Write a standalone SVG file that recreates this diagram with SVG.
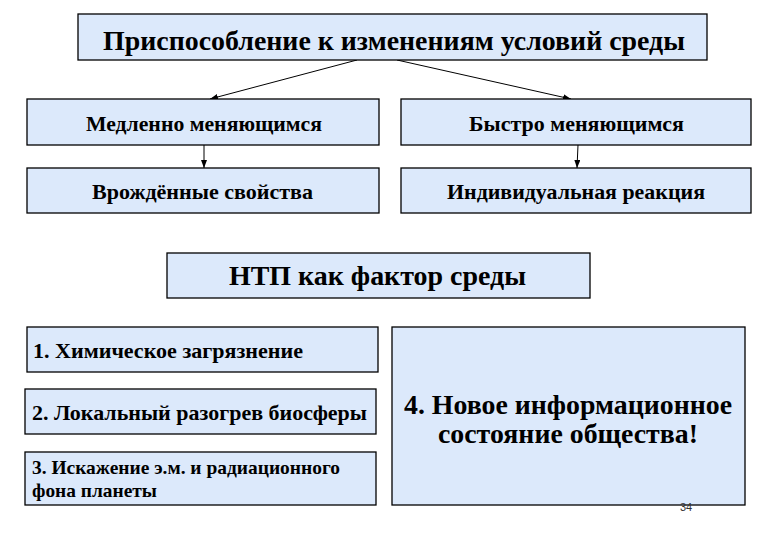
<svg xmlns="http://www.w3.org/2000/svg" width="780" height="540" viewBox="0 0 780 540">
<style>
.box{fill:#dce9fb;stroke:#000;stroke-width:1.3}
.t{font-family:"Liberation Serif","Times New Roman",serif;font-weight:bold;fill:#000}
.c{fill:none;stroke:#000;stroke-width:1}
</style>
<defs>
<marker id="ah" markerWidth="8" markerHeight="6" refX="8" refY="3" orient="auto" markerUnits="userSpaceOnUse">
<path d="M0,0 L8,3 L0,6 Z" fill="#000"/>
</marker>
</defs>
<rect width="780" height="540" fill="#fff"/>
<g id="connectors">
<line class="c" x1="357" y1="60" x2="210" y2="99" marker-end="url(#ah)"/>
<line class="c" x1="397" y1="60" x2="571" y2="99" marker-end="url(#ah)"/>
<line class="c" x1="204" y1="145" x2="204" y2="168" marker-end="url(#ah)"/>
<line class="c" x1="578" y1="145" x2="577" y2="168" marker-end="url(#ah)"/>
</g>
<g id="title">
<rect class="box" x="78" y="14" width="629" height="46"/>
<text class="t" x="103" y="50" font-size="28" textLength="582" lengthAdjust="spacingAndGlyphs">Приспособление к изменениям условий среды</text>
</g>
<g id="slow">
<rect class="box" x="27" y="99" width="352" height="46"/>
<text class="t" x="86" y="131" font-size="22" textLength="236" lengthAdjust="spacingAndGlyphs">Медленно меняющимся</text>
</g>
<g id="fast">
<rect class="box" x="401" y="99" width="350" height="46"/>
<text class="t" x="469" y="131" font-size="22" textLength="215" lengthAdjust="spacingAndGlyphs">Быстро меняющимся</text>
</g>
<g id="innate">
<rect class="box" x="27" y="168" width="352" height="45"/>
<text class="t" x="92" y="199" font-size="22" textLength="221" lengthAdjust="spacingAndGlyphs">Врождённые свойства</text>
</g>
<g id="individual">
<rect class="box" x="401" y="168" width="350" height="45"/>
<text class="t" x="447" y="199" font-size="22" textLength="258" lengthAdjust="spacingAndGlyphs">Индивидуальная реакция</text>
</g>
<g id="ntp">
<rect class="box" x="167" y="253" width="423" height="45"/>
<text class="t" x="229" y="285" font-size="28" textLength="297" lengthAdjust="spacingAndGlyphs">НТП как фактор среды</text>
</g>
<g id="item1">
<rect class="box" x="27" y="327" width="351" height="45"/>
<text class="t" x="33" y="358" font-size="22" textLength="270" lengthAdjust="spacingAndGlyphs">1. Химическое загрязнение</text>
</g>
<g id="item2">
<rect class="box" x="25" y="389" width="351" height="45"/>
<text class="t" x="32" y="420" font-size="22" textLength="335" lengthAdjust="spacingAndGlyphs">2. Локальный разогрев биосферы</text>
</g>
<g id="item3">
<rect class="box" x="25" y="452" width="351" height="53"/>
<text class="t" x="32" y="474" font-size="19.5" textLength="308" lengthAdjust="spacingAndGlyphs">3. Искажение э.м. и радиационного</text>
<text class="t" x="32" y="497" font-size="19.5" textLength="125" lengthAdjust="spacingAndGlyphs">фона планеты</text>
</g>
<g id="item4">
<rect class="box" x="392" y="327" width="353" height="178"/>
<text class="t" x="404" y="414" font-size="28" textLength="328" lengthAdjust="spacingAndGlyphs">4. Новое информационное</text>
<text class="t" x="438" y="443" font-size="28" textLength="260" lengthAdjust="spacingAndGlyphs">состояние общества!</text>
</g>
<text x="686" y="511" font-family="Liberation Sans, Arial, sans-serif" font-size="11" fill="#333" text-anchor="middle">34</text>
</svg>
